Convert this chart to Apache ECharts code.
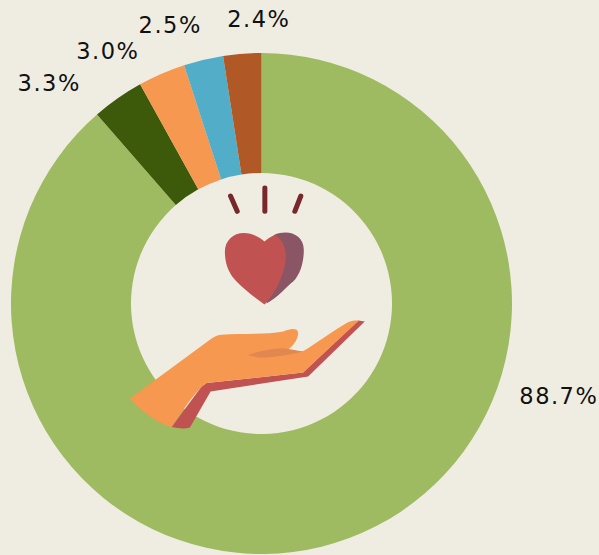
<!DOCTYPE html>
<html><head><meta charset="utf-8">
<style>html,body{margin:0;padding:0;background:#EFEDE2}#c{width:599px;height:555px}#c text{letter-spacing:1.5px}</style>
<script src="https://cdn.jsdelivr.net/npm/echarts@6/dist/echarts.min.js"></script>
</head><body><div id="c"></div>
<script>
const sliceValues = [88.6, 3.35, 3.05, 2.55, 2.45];
const sliceLabels = ['88.7%', '3.3%', '3.0%', '2.5%', '2.4%'];
const sliceColors = ['#9EBB61', '#3D5A0A', '#F6984F', '#52ADC8', '#B05826'];
const labelCenters = [[558.8, 396], [49.2, 83], [107.8, 51], [170.2, 25], [258.8, 19]];

const chart = echarts.init(document.getElementById('c'), null, {renderer: 'svg'});
const P = (d, fill) => ({type: 'path', shape: {pathData: d}, style: {fill: fill}});
const T = d => ({type: 'path', shape: {pathData: d}, style: {fill: 'none', stroke: '#78282C', lineWidth: 15, lineCap: 'round'}});
const icon = () => ({
  type: 'group', x: 120, y: 170, scaleX: 1 / 3, scaleY: 1 / 3,
  children: [
    T('M332 78L352 124'), T('M435 54L435 124'), T('M543 78L525 124'),
    P('M434 404C480 380 500 350 520 335C540 315 552 280 552 240C552 205 525 188 497 188C485 188 475 190 462 195L440 400Z', '#8A5565'),
    P('M434 404C400 380 375 360 350 335C328 312 315 285 315 245C315 212 340 189 372 189C398 189 420 203 434 215C445 205 455 198 466 195C488 208 498 232 498 262C498 300 470 370 434 404Z', '#C05252'),
    P('M715 452L735 455L565 620L272 665L210 773C195 778 175 776 155 772L245 650L260 640L550 608Z', '#C05252'),
    P('M30 686L270 510C280 502 290 496 305 495C360 490 440 495 490 485C505 480 520 474 530 480C538 487 536 500 527 515C517 530 508 538 498 543C515 547 540 547 552 543C590 520 650 475 685 457C695 452 705 451 718 452L550 608L260 640C225 665 190 720 155 772C110 758 70 730 30 686Z', '#F6984F'),
    P('M385 555C410 547 440 538 490 535C510 537 530 542 550 545C520 552 490 558 450 562C425 565 400 562 385 555Z', '#E08850')
  ]
});
chart.setOption({
  backgroundColor: '#EFEDE2',
  animation: false,
  series: [{
    type: 'pie',
    center: [261.5, 303.5],
    radius: [130.5, 250.5],
    startAngle: 90,
    clockwise: true,
    silent: true,
    itemStyle: {borderWidth: 0},
    label: {show: true, overflow: 'none', formatter: p => sliceLabels[p.dataIndex], fontFamily: 'DejaVu Sans', fontSize: 22.5, color: '#111'},
    labelLine: {show: false},
    labelLayout: p => ({x: labelCenters[p.dataIndex][0], y: labelCenters[p.dataIndex][1], align: 'center', verticalAlign: 'middle'}),
    data: sliceValues.map((v, i) => ({value: v, itemStyle: {color: sliceColors[i]}}))
  }, {
    type: 'custom',
    coordinateSystem: 'none',
    silent: true,
    z: 5,
    clip: false,
    data: [0],
    renderItem: icon
  }]
});
</script></body></html>
